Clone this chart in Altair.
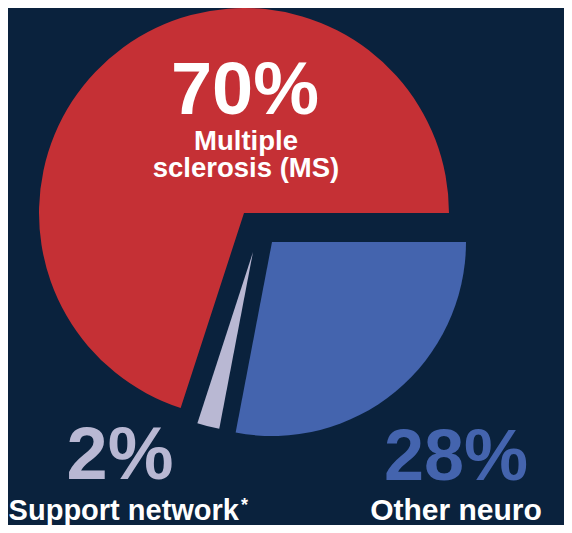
import math
import altair as alt
import pandas as pd

# ---- data ----
categories = ["Other neuro", "Support network", "Multiple sclerosis (MS)"]
shares = [28, 2, 70]
pct_labels = ["28%", "2%", "70%"]
display_labels = ["Other neuro", "Support network", "Multiple\nsclerosis (MS)"]
slice_order = [0, 1, 2]
footnote_mark = "*"

# ---- style ----
BG = "#0a223d"
slice_colors = ["#4464ae", "#b9b8d3", "#c53035"]
pct_colors = ["#4464ae", "#b9b8d3", "#ffffff"]
FONT = "Liberation Sans"

df = pd.DataFrame({
    "category": categories,
    "share": shares,
    "pct": pct_labels,
    "label": display_labels,
    "rank": slice_order,
})

W, H = 556, 517

# exploded slice geometry: (center x, center y, radius) in px
geom = {
    "Multiple sclerosis (MS)": (236, 205, 205),
    "Other neuro": (264, 234, 194),
    "Support network": (245, 244, 180),
}

base = alt.Chart(df)

theta = alt.Theta("share:Q", stack=True,
                  scale=alt.Scale(range=[math.pi / 2, math.pi / 2 + 2 * math.pi]))
color = alt.Color("category:N", scale=alt.Scale(domain=categories, range=slice_colors),
                  legend=None)

layers = []
for cat in categories:
    cx, cy, r = geom[cat]
    layers.append(
        base.mark_arc(x=cx, y=cy, outerRadius=r, innerRadius=0).encode(
            theta=theta,
            order=alt.Order("rank:Q"),
            color=color,
            opacity=alt.condition(alt.datum.category == cat, alt.value(1), alt.value(0)),
        )
    )

# percentage labels: (x, y, size)
pct_pos = {
    "Multiple sclerosis (MS)": (237, 106, 74),
    "Other neuro": (448, 472, 72),
    "Support network": (112, 471, 74),
}
for cat, col in zip(categories, pct_colors):
    x, y, s = pct_pos[cat]
    layers.append(
        base.transform_filter(alt.datum.category == cat).mark_text(
            x=x, y=y, fontSize=s, font=FONT, fontWeight="bold", color=col,
            align="center", baseline="alphabetic",
        ).encode(text="pct:N")
    )

# category labels
lab_pos = {
    "Multiple sclerosis (MS)": (238, 142, 27.5, "center"),
    "Other neuro": (448, 512, 30, "center"),
    "Support network": (231, 512, 29, "right"),
}
for cat in categories:
    x, y, s, al = lab_pos[cat]
    layers.append(
        base.transform_filter(alt.datum.category == cat).mark_text(
            x=x, y=y, fontSize=s, font=FONT, fontWeight="bold", color="#ffffff",
            align=al, baseline="alphabetic", lineBreak="\n", lineHeight=27,
        ).encode(text="label:N")
    )

# footnote asterisk
layers.append(
    alt.Chart(pd.DataFrame({"m": [footnote_mark]})).mark_text(
        x=233, y=503, fontSize=18, font=FONT, fontWeight="bold", color="#ffffff",
        align="left", baseline="alphabetic",
    ).encode(text="m:N")
)

chart = alt.layer(*layers).properties(
    width=W, height=H, background=BG, padding=0,
    autosize=alt.AutoSizeParams(type="none"),
).configure_view(stroke=None)

chart.save("out.html", embed_options={"renderer": "svg", "actions": False})
